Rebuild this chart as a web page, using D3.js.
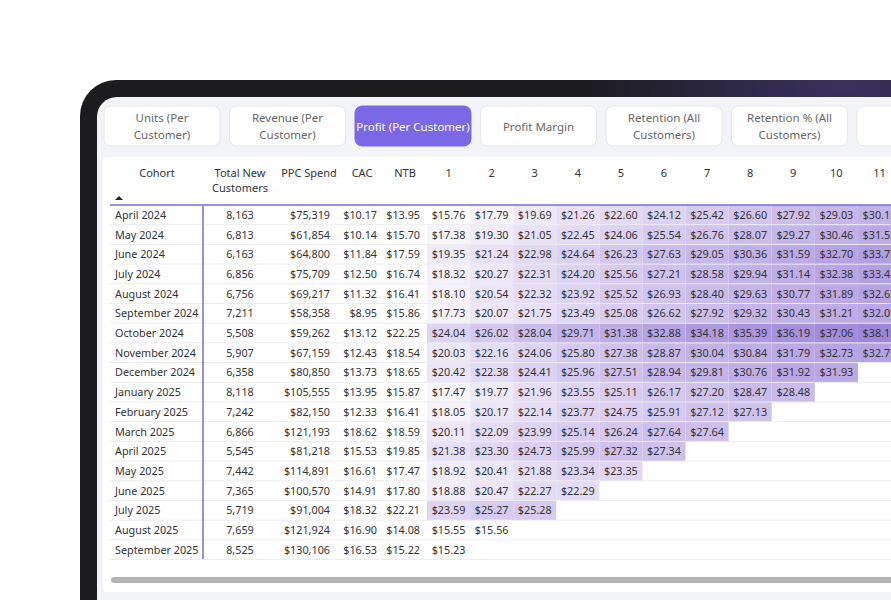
<!DOCTYPE html>
<html>
<head>
<meta charset="utf-8">
<script src="https://cdn.jsdelivr.net/npm/d3@7"></script>
<style>
  body { margin: 0; background: #fff; }
  svg { display: block; font-family: "Noto Sans", "Open Sans", sans-serif; }
</style>
</head>
<body>
<div id="chart"></div>
<script>
const buttons = ["Units (Per|Customer)", "Revenue (Per|Customer)", "Profit (Per Customer)", "Profit Margin",
  "Retention (All|Customers)", "Retention % (All|Customers)", "All"];
const activeButton = 2;

const cohorts = ["April 2024", "May 2024", "June 2024", "July 2024", "August 2024", "September 2024",
  "October 2024", "November 2024", "December 2024", "January 2025", "February 2025", "March 2025",
  "April 2025", "May 2025", "June 2025", "July 2025", "August 2025", "September 2025"];
const newCustomers = [8163, 6813, 6163, 6856, 6756, 7211, 5508, 5907, 6358, 8118, 7242, 6866, 5545, 7442, 7365, 5719, 7659, 8525];
const ppcSpend = [75319, 61854, 64800, 75709, 69217, 58358, 59262, 67159, 80850, 105555, 82150, 121193, 81218, 114891, 100570, 91004, 121924, 130106];
const cac = [10.17, 10.14, 11.84, 12.50, 11.32, 8.95, 13.12, 12.43, 13.73, 13.95, 12.33, 18.62, 15.53, 16.61, 14.91, 18.32, 16.90, 16.53];
const ntb = [13.95, 15.70, 17.59, 16.74, 16.41, 15.86, 22.25, 18.54, 18.65, 15.87, 16.41, 18.59, 19.85, 17.47, 17.80, 22.21, 14.08, 15.22];
const months = ["1", "2", "3", "4", "5", "6", "7", "8", "9", "10", "11"];
const profit = [
  [15.76, 17.79, 19.69, 21.26, 22.60, 24.12, 25.42, 26.60, 27.92, 29.03, 30.15],
  [17.38, 19.30, 21.05, 22.45, 24.06, 25.54, 26.76, 28.07, 29.27, 30.46, 31.55],
  [19.35, 21.24, 22.98, 24.64, 26.23, 27.63, 29.05, 30.36, 31.59, 32.70, 33.75],
  [18.32, 20.27, 22.31, 24.20, 25.56, 27.21, 28.58, 29.94, 31.14, 32.38, 33.45],
  [18.10, 20.54, 22.32, 23.92, 25.52, 26.93, 28.40, 29.63, 30.77, 31.89, 32.65],
  [17.73, 20.07, 21.75, 23.49, 25.08, 26.62, 27.92, 29.32, 30.43, 31.21, 32.05],
  [24.04, 26.02, 28.04, 29.71, 31.38, 32.88, 34.18, 35.39, 36.19, 37.06, 38.15],
  [20.03, 22.16, 24.06, 25.80, 27.38, 28.87, 30.04, 30.84, 31.79, 32.73, 32.75],
  [20.42, 22.38, 24.41, 25.96, 27.51, 28.94, 29.81, 30.76, 31.92, 31.93],
  [17.47, 19.77, 21.96, 23.55, 25.11, 26.17, 27.20, 28.47, 28.48],
  [18.05, 20.17, 22.14, 23.77, 24.75, 25.91, 27.12, 27.13],
  [20.11, 22.09, 23.99, 25.14, 26.24, 27.64, 27.64],
  [21.38, 23.30, 24.73, 25.99, 27.32, 27.34],
  [18.92, 20.41, 21.88, 23.34, 23.35],
  [18.88, 20.47, 22.27, 22.29],
  [23.59, 25.27, 25.28],
  [15.55, 15.56],
  [15.23]
];

const W = 891, H = 600;
const svg = d3.select("#chart").append("svg").attr("width", W).attr("height", H);
const defs = svg.append("defs");

const glow = defs.append("radialGradient").attr("id", "glow").attr("cx", "0.85").attr("cy", "0").attr("r", "0.3");
glow.append("stop").attr("offset", "0%").attr("stop-color", "#3a3160");
glow.append("stop").attr("offset", "100%").attr("stop-color", "#1c1c1e");

/* device frame */
svg.append("rect").attr("x", 80).attr("y", 80).attr("width", 900).attr("height", 600)
  .attr("rx", 36).attr("fill", "url(#glow)");
svg.append("rect").attr("x", 97).attr("y", 97).attr("width", 900).attr("height", 600)
  .attr("rx", 20).attr("fill", "#f3f4f7");

/* toggle buttons */
const bx = d3.scaleLinear().domain([0, 1]).range([104, 229.5]);
const bg = svg.selectAll(".btn").data(buttons).enter().append("g")
  .attr("transform", (d, i) => `translate(${bx(i)},106)`);
bg.append("rect").attr("width", 116).attr("height", 40).attr("rx", 7)
  .attr("fill", (d, i) => i === activeButton ? "#7b68e6" : "#fff")
  .attr("stroke", (d, i) => i === activeButton ? "#7b68e6" : "#e6e7ea");
bg.each(function (d, i) {
  const lines = d.split("|");
  const t = d3.select(this).append("text").attr("text-anchor", "middle")
    .attr("font-size", 11.5).attr("fill", i === activeButton ? "#fff" : "#666");
  lines.forEach((l, k) => t.append("tspan").attr("x", 58)
    .attr("y", 20 + (k - (lines.length - 1) / 2) * 17 + 4.5).text(l));
});

/* table panel */
svg.append("rect").attr("x", 103).attr("y", 157).attr("width", 900).attr("height", 435)
  .attr("rx", 4).attr("fill", "#fff");

const rowY = d3.scaleBand().domain(cohorts).range([205, 559.6]);
const colX = d3.scaleBand().domain(months).range([427, 901]);
const color = d3.scaleLinear().domain([15.5, 24, 38.5]).range(["#ffffff", "#ddd3f2", "#9c85d8"]);

const money0 = d3.format("$,.0f"), money2 = d3.format("$.2f"), num = d3.format(",");

/* heatmap cells */
profit.forEach((row, r) => {
  svg.selectAll(null).data(row).enter().append("rect")
    .attr("x", (d, c) => colX(months[c]))
    .attr("y", rowY(cohorts[r]))
    .attr("width", colX.bandwidth()).attr("height", rowY.bandwidth())
    .attr("fill", d => color(d));
});

/* row separators */
svg.selectAll(".sep").data(cohorts).enter().append("line")
  .attr("x1", 110).attr("x2", W)
  .attr("y1", d => rowY(d) + rowY.bandwidth()).attr("y2", d => rowY(d) + rowY.bandwidth())
  .attr("stroke", "#ececef");

/* header */
const header = svg.append("g").attr("font-size", 11).attr("fill", "#333");
const hdr = [
  { t: ["Cohort"], x: 157 },
  { t: ["Total New", "Customers"], x: 240 },
  { t: ["PPC Spend"], x: 309 },
  { t: ["CAC"], x: 362 },
  { t: ["NTB"], x: 405 }
];
hdr.forEach(h => {
  const t = header.append("text").attr("text-anchor", "middle").attr("fill", "#333");
  h.t.forEach((l, k) => t.append("tspan").attr("x", h.x).attr("y", 177 + k * 15).text(l));
});
header.selectAll(".mh").data(months).enter().append("text")
  .attr("text-anchor", "middle").attr("fill", "#333")
  .attr("x", d => colX(d) + colX.bandwidth() / 2).attr("y", 177).text(d => d);
svg.append("path").attr("d", "M115,200 l4,-4 l4,4 z").attr("fill", "#222");

svg.append("line").attr("x1", 110).attr("x2", W).attr("y1", 205).attr("y2", 205)
  .attr("stroke", "#7b68e6").attr("stroke-width", 1.5);
svg.append("line").attr("x1", 203).attr("x2", 203).attr("y1", 205).attr("y2", 559)
  .attr("stroke", "#7b68e6").attr("stroke-width", 1.5);

/* body text */
const body = svg.append("g").attr("font-size", 10.8).attr("fill", "#333");
const cy = d => rowY(d) + rowY.bandwidth() / 2 + 4;
body.selectAll(".c").data(cohorts).enter().append("text")
  .attr("x", 115).attr("y", d => cy(d)).text(d => d);
body.selectAll(".n").data(newCustomers).enter().append("text").attr("text-anchor", "middle")
  .attr("x", 240).attr("y", (d, i) => cy(cohorts[i])).text(d => num(d));
body.selectAll(".p").data(ppcSpend).enter().append("text").attr("text-anchor", "end")
  .attr("x", 330).attr("y", (d, i) => cy(cohorts[i])).text(d => money0(d));
body.selectAll(".cac").data(cac).enter().append("text").attr("text-anchor", "end")
  .attr("x", 377).attr("y", (d, i) => cy(cohorts[i])).text(d => money2(d));
body.selectAll(".ntb").data(ntb).enter().append("text").attr("text-anchor", "end")
  .attr("x", 420).attr("y", (d, i) => cy(cohorts[i])).text(d => money2(d));
profit.forEach((row, r) => {
  body.selectAll(null).data(row).enter().append("text").attr("text-anchor", "middle")
    .attr("x", (d, c) => colX(months[c]) + colX.bandwidth() / 2)
    .attr("y", cy(cohorts[r])).text(d => money2(d));
});

/* scrollbar */
svg.append("rect").attr("x", 111).attr("y", 577).attr("width", 800).attr("height", 6)
  .attr("rx", 3).attr("fill", "#b4b4b8");
</script>
</body>
</html>
